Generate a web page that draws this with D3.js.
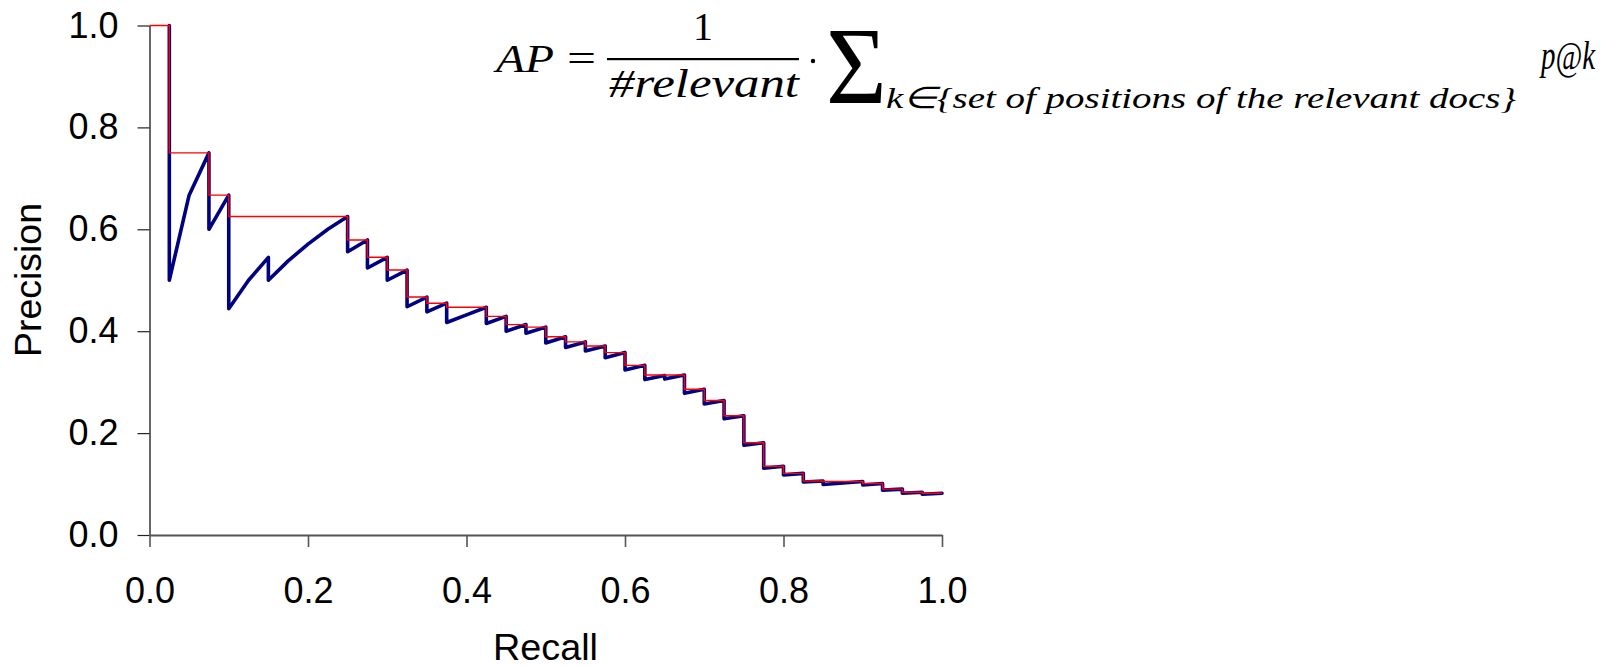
<!DOCTYPE html>
<html>
<head>
<meta charset="utf-8">
<script src="https://cdn.jsdelivr.net/npm/d3@7"></script>
<style>
  body { margin: 0; background: #fff; }
  svg { display: block; }
</style>
</head>
<body>
<div id="chart"></div>
<script>
// recall level reached at each relevant document (40 relevant docs)
var recall = [0.025, 0.05, 0.075, 0.1, 0.125, 0.15, 0.175, 0.2, 0.225, 0.25,
  0.275, 0.3, 0.325, 0.35, 0.375, 0.4, 0.425, 0.45, 0.475, 0.5,
  0.525, 0.55, 0.575, 0.6, 0.625, 0.65, 0.675, 0.7, 0.725, 0.75,
  0.775, 0.8, 0.825, 0.85, 0.875, 0.9, 0.925, 0.95, 0.975, 1.0];

// precision right after the relevant doc is found
var precisionTop = [1.000, 0.667, 0.750, 0.667, 0.500, 0.545, 0.538, 0.571, 0.600, 0.625,
  0.579, 0.545, 0.520, 0.467, 0.455, 0.432, 0.447, 0.429, 0.413, 0.408,
  0.389, 0.379, 0.371, 0.358, 0.333, 0.313, 0.314, 0.286, 0.264, 0.234,
  0.181, 0.135, 0.121, 0.106, 0.102, 0.105, 0.101, 0.090, 0.084, 0.082];

// precision after the following run of non relevant docs
var precisionBottom = [0.500, 0.667, 0.600, 0.444, 0.500, 0.500, 0.538, 0.571, 0.600, 0.556,
  0.524, 0.500, 0.448, 0.438, 0.417, 0.432, 0.415, 0.400, 0.396, 0.377,
  0.368, 0.361, 0.348, 0.324, 0.305, 0.306, 0.278, 0.257, 0.228, 0.176,
  0.131, 0.118, 0.104, 0.099, 0.102, 0.098, 0.088, 0.082, 0.080, 0.082];

// interpolated precision for the interval ending at each recall level
var interpolated = [1.000, 0.750, 0.750, 0.667, 0.625, 0.625, 0.625, 0.625, 0.625, 0.625,
  0.579, 0.545, 0.520, 0.467, 0.455, 0.447, 0.447, 0.429, 0.413, 0.408,
  0.389, 0.379, 0.371, 0.358, 0.333, 0.314, 0.314, 0.286, 0.264, 0.234,
  0.181, 0.135, 0.121, 0.106, 0.105, 0.105, 0.101, 0.090, 0.084, 0.082];

var xTicks = [0, 0.2, 0.4, 0.6, 0.8, 1.0];
var yTicks = [0, 0.2, 0.4, 0.6, 0.8, 1.0];

var w = 1616, h = 668;

var svg = d3.select("#chart")
  .append("svg")
  .attr("width", w)
  .attr("height", h)

svg.append("rect").attr("width", w).attr("height", h).attr("fill", "#fff")

var x = d3.scaleLinear().domain([0, 1]).range([149.5, 942])
var y = d3.scaleLinear().domain([0, 1]).range([535, 25.5])

var sans = "'Liberation Sans', Arial, sans-serif";

// y axis
var yAxis = svg.append("g")
  .attr("transform", "translate(149.5,0)")
  .call(d3.axisLeft(y).tickValues(yTicks).tickFormat(d3.format(".1f"))
    .tickSize(12).tickSizeOuter(0).tickPadding(19))
yAxis.select(".domain").attr("stroke", "#000").attr("stroke-width", 1.2)
yAxis.selectAll(".tick line").attr("stroke", "#222").attr("stroke-width", 1.2)
yAxis.selectAll(".tick text")
  .attr("font-family", sans).attr("font-size", 36).attr("fill", "#000")

// x axis
var xAxis = svg.append("g")
  .attr("transform", "translate(0,535)")
  .call(d3.axisBottom(x).tickValues(xTicks).tickFormat(d3.format(".1f"))
    .tickSize(12).tickSizeOuter(0).tickPadding(30))
xAxis.select(".domain").attr("stroke", "#555").attr("stroke-width", 2)
xAxis.selectAll(".tick line").attr("stroke", "#555").attr("stroke-width", 1.6)
xAxis.selectAll(".tick text")
  .attr("font-family", sans).attr("font-size", 36).attr("fill", "#000")

// axis titles
svg.append("text")
  .attr("x", 545.5).attr("y", 660)
  .attr("text-anchor", "middle")
  .attr("font-family", sans).attr("font-size", 36)
  .attr("textLength", 105).attr("lengthAdjust", "spacingAndGlyphs")
  .text("Recall")

svg.append("text")
  .attr("transform", "translate(41,280) rotate(-90)")
  .attr("text-anchor", "middle")
  .attr("font-family", sans).attr("font-size", 36)
  .attr("textLength", 154).attr("lengthAdjust", "spacingAndGlyphs")
  .text("Precision")

// precision at every rank (blue sawtooth)
var rankPoints = [];
recall.forEach(function(r, i) {
  rankPoints.push([r, precisionTop[i]]);
  rankPoints.push([r, precisionBottom[i]]);
});

var line = d3.line()
  .x(function(d) { return x(d[0]); })
  .y(function(d) { return y(d[1]); })

svg.append("path")
  .datum(rankPoints)
  .attr("d", line)
  .attr("fill", "none")
  .attr("stroke", "#000080")
  .attr("stroke-width", 3.6)
  .attr("stroke-linejoin", "round")
  .attr("stroke-linecap", "round")

// interpolated precision (red steps)
var stepPoints = interpolated.map(function(v, i) {
  return [i === 0 ? 0 : recall[i - 1], v];
});
stepPoints.push([recall[recall.length - 1], interpolated[interpolated.length - 1]]);

svg.append("path")
  .datum(stepPoints)
  .attr("d", line.curve(d3.curveStepAfter))
  .attr("fill", "none")
  .attr("stroke", "#ff0000")
  .attr("stroke-width", 1.4)

// formula
var serif = "'Liberation Serif', 'Times New Roman', serif";
var f = svg.append("g")
  .attr("font-family", serif)
  .attr("font-style", "italic")
  .attr("fill", "#000")

f.append("text").attr("x", 496).attr("y", 72).attr("font-size", 40)
  .attr("textLength", 58).attr("lengthAdjust", "spacingAndGlyphs").text("AP")
f.append("text").attr("x", 567).attr("y", 72).attr("font-size", 40)
  .attr("font-style", "normal").attr("textLength", 29).attr("lengthAdjust", "spacingAndGlyphs").text("=")
f.append("text").attr("x", 703).attr("y", 40).attr("font-size", 40)
  .attr("font-style", "normal").attr("text-anchor", "middle").text("1")
f.append("rect").attr("x", 607).attr("y", 58).attr("width", 192).attr("height", 2.2)
f.append("text").attr("x", 609).attr("y", 97).attr("font-size", 40)
  .attr("textLength", 190).attr("lengthAdjust", "spacingAndGlyphs").text("#relevant")
f.append("circle").attr("cx", 813).attr("cy", 61).attr("r", 2.2)
f.append("text")
  .attr("transform", "translate(826,103) scale(0.95,1)")
  .attr("font-size", 110).attr("font-style", "normal").text("\u03A3")
f.append("text").attr("x", 886).attr("y", 108).attr("font-size", 30)
  .attr("textLength", 630).attr("lengthAdjust", "spacingAndGlyphs")
  .text("k\u2208{set of positions of the relevant docs}")
f.append("text").attr("x", 1541).attr("y", 69).attr("font-size", 40)
  .attr("textLength", 54).attr("lengthAdjust", "spacingAndGlyphs").text("p@k")
</script>
</body>
</html>
